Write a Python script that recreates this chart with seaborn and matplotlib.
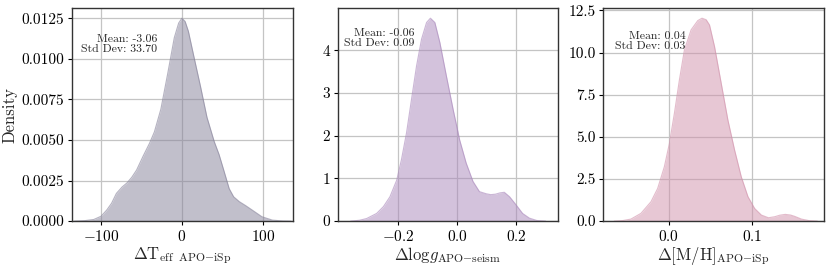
import numpy as np
import matplotlib
matplotlib.use("Agg")
import matplotlib.pyplot as plt
import seaborn as sns

# ========== 1. Density curves ==========
teff_x = [-133, -120, -109, -100, -93, -87, -81, -74, -68, -62, -56, -48, -40, -34, -26,
          -17.5, -9.4, -4, 0, 4, 8, 15, 23, 31, 40, 46, 52, 58.5, 64, 71, 79, 87, 99, 112, 125, 135]
teff_y = [0.0, 0.00003, 0.0001, 0.0003, 0.00068, 0.0011, 0.00171, 0.0021, 0.00235, 0.0027,
          0.00315, 0.0040, 0.0048, 0.0055, 0.0069, 0.0091, 0.0113, 0.0122, 0.0125, 0.0123,
          0.0117, 0.0101, 0.0083, 0.0064, 0.0049, 0.0041, 0.0031, 0.0020, 0.0015, 0.0012,
          0.00095, 0.00068, 0.00027, 0.00006, 0.00001, 0.0]

logg_x = [-0.36, -0.33, -0.306, -0.272, -0.249, -0.227, -0.204, -0.188, -0.171, -0.154,
          -0.137, -0.120, -0.103, -0.090, -0.075, -0.058, -0.036, -0.013, 0.009, 0.031,
          0.054, 0.076, 0.099, 0.114, 0.130, 0.145, 0.160, 0.178, 0.200, 0.222, 0.245,
          0.270, 0.30]
logg_y = [0.0, 0.02, 0.06, 0.18, 0.34, 0.57, 0.96, 1.44, 2.06, 2.85, 3.63, 4.26, 4.65,
          4.75, 4.65, 4.18, 3.40, 2.61, 1.90, 1.36, 0.93, 0.69, 0.64, 0.62, 0.63, 0.66,
          0.675, 0.57, 0.38, 0.18, 0.07, 0.015, 0.0]

mh_x = [-0.065, -0.055, -0.045, -0.033, -0.021, -0.013, -0.005, 0.001, 0.007, 0.013,
        0.019, 0.027, 0.035, 0.040, 0.045, 0.049, 0.055, 0.063, 0.071, 0.079, 0.087,
        0.095, 0.103, 0.111, 0.1195, 0.127, 0.133, 0.1396, 0.146, 0.151, 0.159, 0.168,
        0.178]
mh_y = [0.0, 0.03, 0.12, 0.46, 1.15, 1.94, 3.23, 4.6, 6.4, 8.38, 10.16, 11.35, 11.9,
        12.04, 11.95, 11.64, 10.36, 8.18, 6.0, 4.22, 2.63, 1.45, 0.75, 0.36, 0.2, 0.26,
        0.35, 0.40, 0.36, 0.28, 0.12, 0.03, 0.0]

curves = [(teff_x, teff_y), (logg_x, logg_y), (mh_x, mh_y)]
colors = ["#858199", "#a987bb", "#d191ab"]
labels = [r"$\Delta\mathrm{T}_{\mathrm{eff\ \ APO{-}iSp}}$",
          r"$\Delta\mathrm{log}g_{\mathrm{APO{-}seism}}$",
          r"$\Delta[\mathrm{M/H}]_{\mathrm{APO{-}iSp}}$"]
means = ["-3.06", "-0.06", "0.04"]
stds = ["33.70", "0.09", "0.03"]
xlims = [(-136, 137), (-0.404, 0.343), (-0.078, 0.186)]
xticks = [[-100, 0, 100], [-0.2, 0.0, 0.2], [0.0, 0.1]]
yticks = [[0, 0.0025, 0.005, 0.0075, 0.01, 0.0125], [0, 1, 2, 3, 4],
          [0, 2.5, 5, 7.5, 10, 12.5]]
yfmt = ["{:.4f}", "{:.0f}", "{:.1f}"]
text_pos = [(0.385, 0.875), (0.348, 0.905), (0.373, 0.89)]

# ========== 2. Style ==========
sns.set_style("whitegrid")
plt.rcParams.update({
    "font.family": "serif",
    "font.serif": ["cmr10", "DejaVu Serif"],
    "mathtext.fontset": "cm",
    "axes.formatter.use_mathtext": True,
    "axes.edgecolor": "#333333",
    "axes.linewidth": 1.0,
    "grid.color": "#c4c4c4",
    "grid.linewidth": 0.9,
    "xtick.bottom": True,
    "ytick.left": True,
    "xtick.major.size": 3,
    "ytick.major.size": 3,
    "xtick.major.pad": 2.5,
    "ytick.major.pad": 2.5,
    "xtick.color": "#333333",
    "ytick.color": "#333333",
})

fig, axes = plt.subplots(1, 3, figsize=(8.31, 2.69), dpi=100)
fig.subplots_adjust(left=0.0866, right=0.9916, bottom=0.178, top=0.970, wspace=0.204)

# ========== 3. Draw panels ==========
for i, ax in enumerate(axes):
    xs, ys = curves[i]
    ax.fill_between(xs, ys, color=colors[i], alpha=0.5, linewidth=0)
    sns.lineplot(x=xs, y=ys, ax=ax, color=colors[i], alpha=0.6, linewidth=0.8)
    ax.set_xlim(*xlims[i])
    ax.set_ylim(0, max(ys) * 1.05)
    ax.set_xticks(xticks[i])
    ax.set_yticks(yticks[i])
    ax.set_yticklabels([yfmt[i].format(v) for v in yticks[i]])
    ax.tick_params(labelsize=11, colors="black")
    ax.set_xlabel(labels[i], fontsize=12, labelpad=1)
    ax.set_ylabel("Density" if i == 0 else "", fontsize=12, labelpad=3)
    ax.text(text_pos[i][0], text_pos[i][1],
            f"Mean: {means[i]}\nStd Dev: {stds[i]}",
            transform=ax.transAxes, ha="right", va="top", fontsize=8.5,
            linespacing=1.1)
    for s in ax.spines.values():
        s.set_color("#333333")

plt.savefig("out.png", dpi=100)
